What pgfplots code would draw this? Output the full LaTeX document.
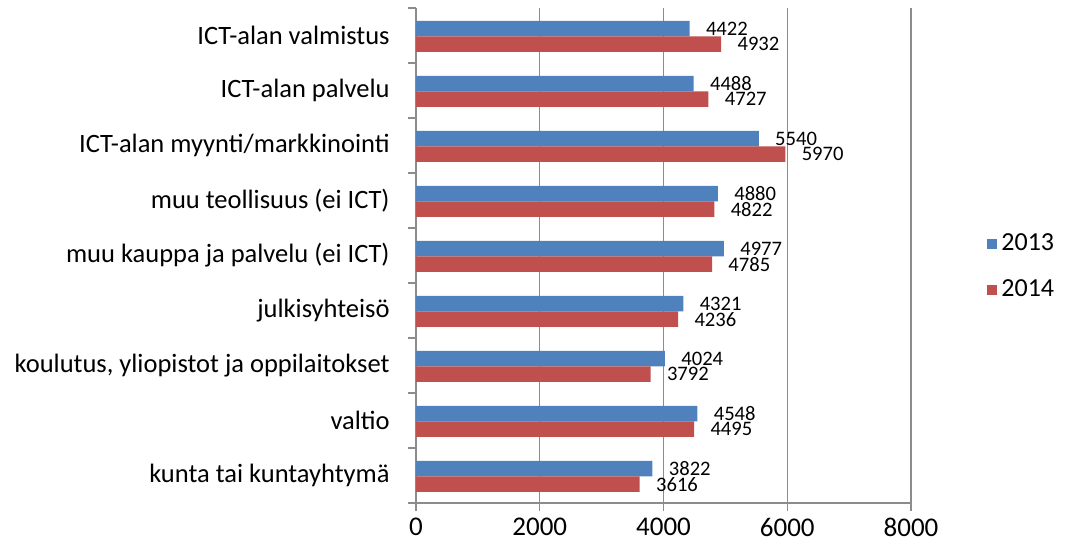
\documentclass[border=0pt]{standalone}
\usepackage{pgfplots}
\pgfplotsset{compat=1.18}
\usepackage{fontspec}
\setmainfont{Carlito}

\definecolor{blue13}{HTML}{4F81BD}
\definecolor{red14}{HTML}{C0504D}
\definecolor{axgray}{HTML}{8C8C8C}

% 0 = kunta ... 8 = ICT-alan valmistus (bottom to top)
\pgfplotstableread{
y  v2013 v2014
0  3822  3616
1  4548  4495
2  4024  3792
3  4321  4236
4  4977  4785
5  4880  4822
6  5540  5970
7  4488  4727
8  4422  4932
}\salary

\begin{document}
\begin{tikzpicture}
\useasboundingbox (-208pt,-23.5pt) rectangle (326pt,251.5pt);
\begin{axis}[
  scale only axis,
  width=247.5pt, height=247.5pt,
  xbar, bar width=7.75pt,
  xmin=0, xmax=8000,
  ymin=-0.5, ymax=8.5,
  axis lines*=left,
  axis line style={draw=axgray, line width=0.75pt},
  xtick={0,2000,4000,6000,8000},
  xmajorgrids,
  grid style={draw=axgray, line width=0.75pt},
  tick align=outside,
  major tick length=4pt,
  tick style={draw=axgray, line width=0.75pt},
  ytick={-0.5,0.5,...,8.5},
  yticklabels={},
  extra y ticks={0,1,2,3,4,5,6,7,8},
  extra y tick labels={kunta tai kuntayhtymä, valtio, {koulutus, yliopistot ja oppilaitokset}, julkisyhteisö, muu kauppa ja palvelu (ei ICT), muu teollisuus (ei ICT), ICT-alan myynti/markkinointi, ICT-alan palvelu, ICT-alan valmistus},
  extra y tick style={major tick length=0pt, grid=none,
    yticklabel style={anchor=east, inner sep=0pt, xshift=-13pt, font=\fontsize{13.25}{16}\selectfont}},
  xticklabel style={inner sep=0pt, yshift=-3.5pt, font=\fontsize{13.5}{16}\selectfont},
  /pgf/number format/assume math mode=true,
  /pgf/number format/1000 sep={},
  nodes near coords,
  nodes near coords style={anchor=west, inner sep=0pt, xshift=8pt, font=\fontsize{10.3}{12}\selectfont, text=black},
  legend style={draw=none, at={(axis description cs:1,0.477)}, anchor=west, xshift=38pt,
    inner sep=0pt, row sep=9pt, font=\fontsize{13}{15}\selectfont},
  legend cell align=left,
  legend image code/.code={\fill[#1] (0pt,-2.5pt) rectangle (5pt,2.5pt);},
  clip=false,
]
\addplot[fill=blue13, draw=none, bar shift=3.4pt] table[x=v2013, y=y] {\salary};
\addplot[fill=red14, draw=none, bar shift=-4.35pt] table[x=v2014, y=y] {\salary};
\legend{2013, 2014}
\end{axis}
\end{tikzpicture}
\end{document}
